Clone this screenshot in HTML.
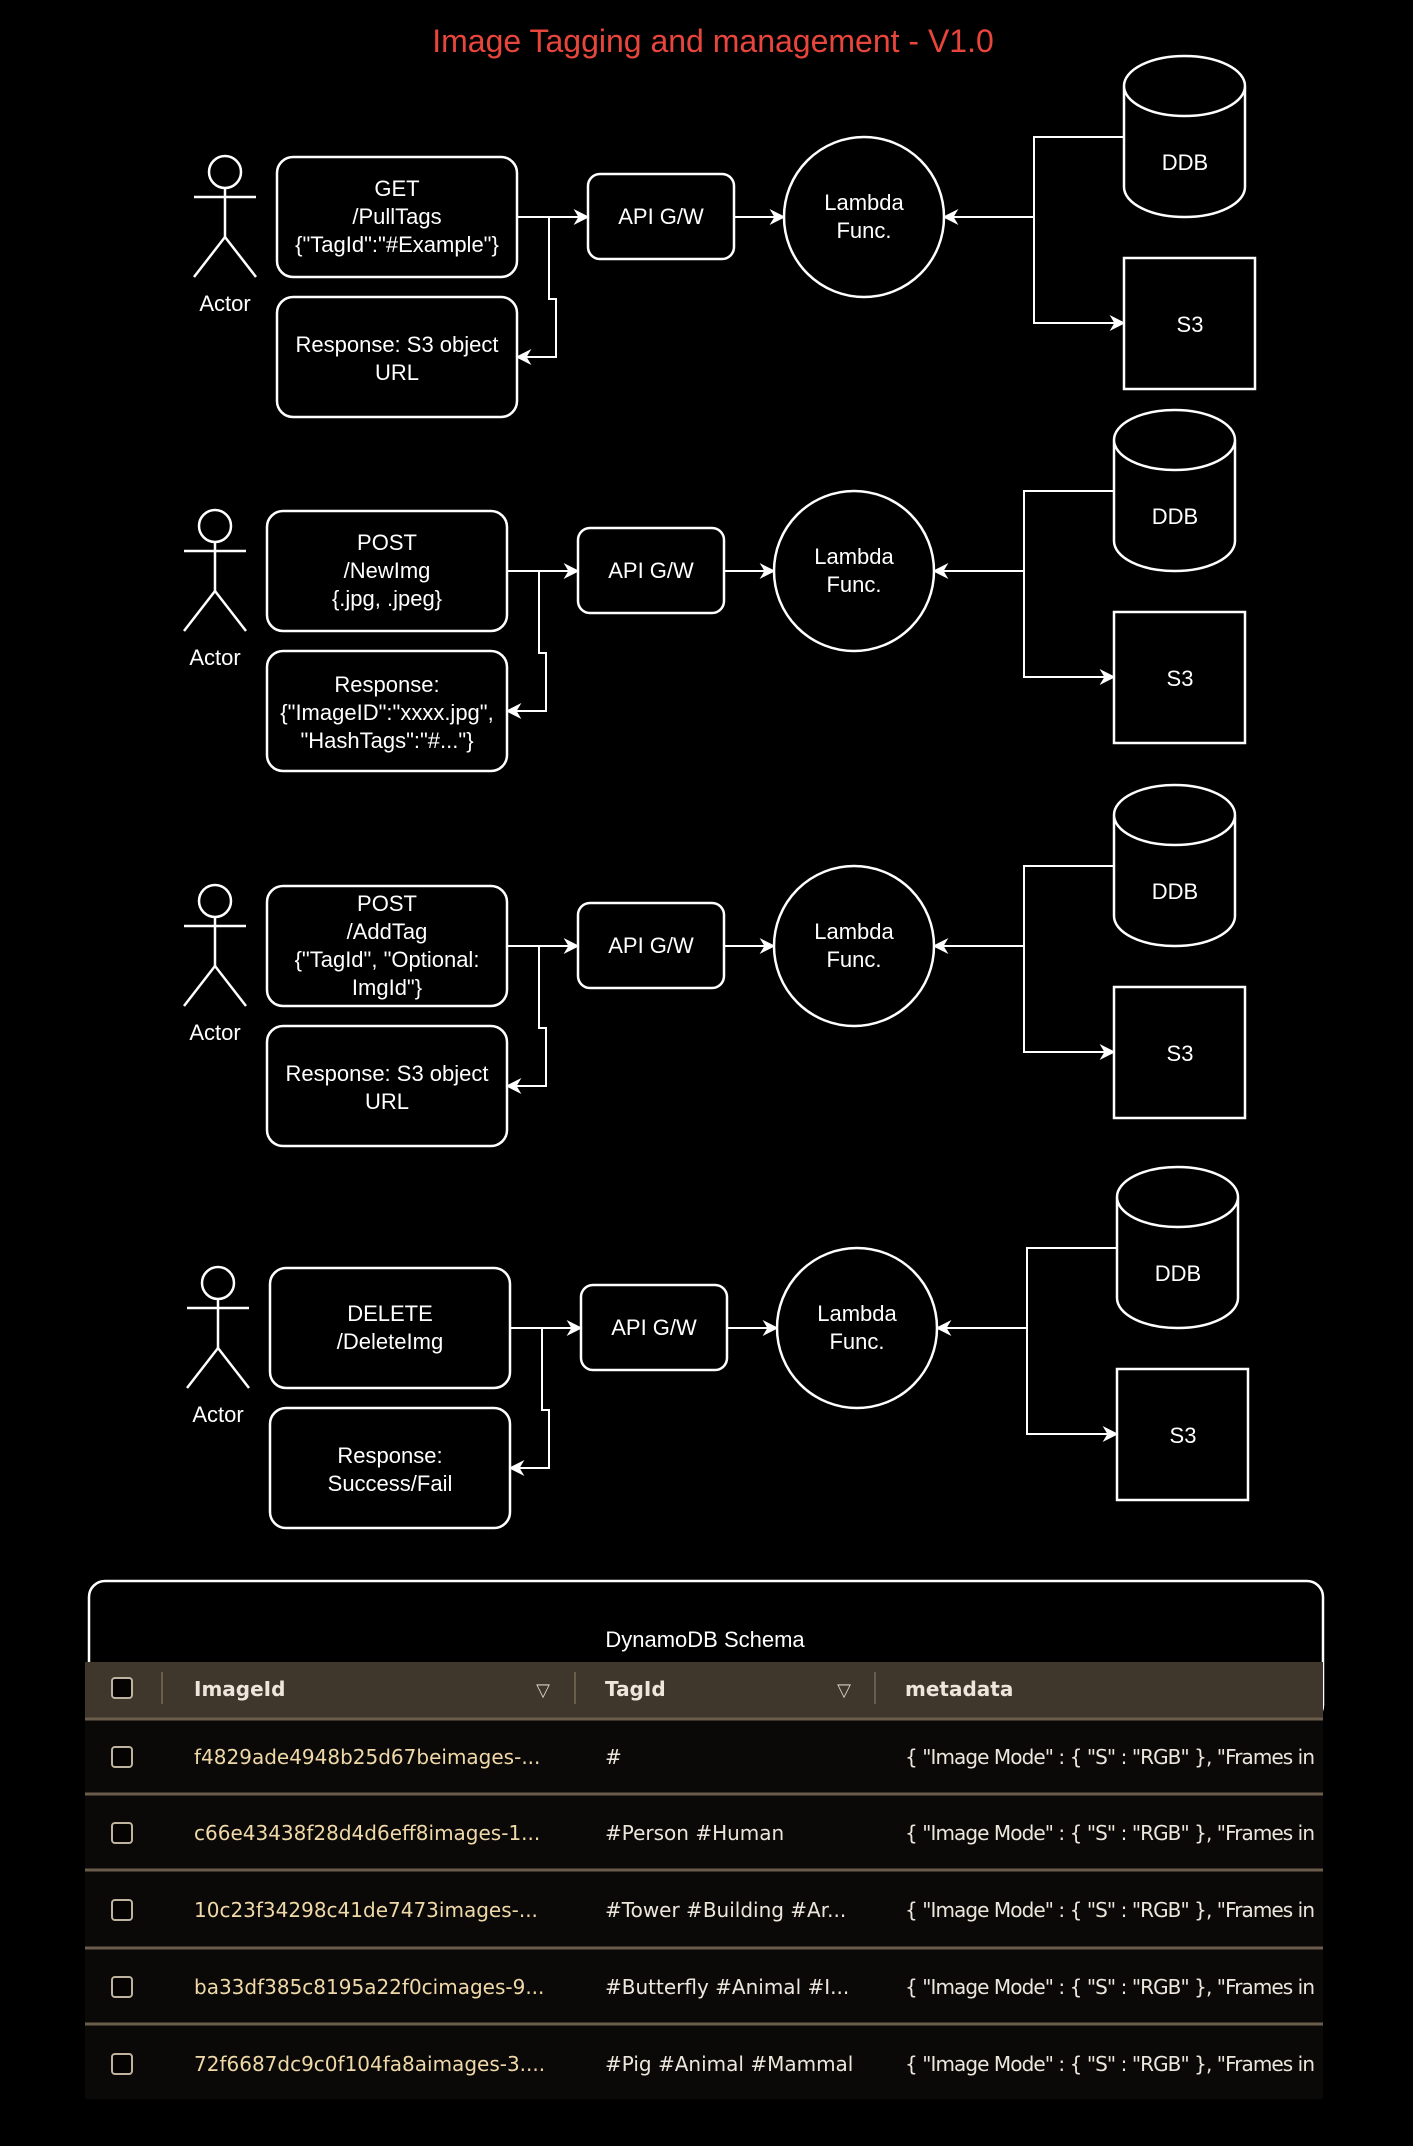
<!DOCTYPE html>
<html><head><meta charset="utf-8"><style>
html,body{margin:0;padding:0;background:#000;}
body{width:1413px;height:2141px;overflow:hidden;position:relative;font-family:"Liberation Sans",Arial,sans-serif;}
svg text{font-family:"Liberation Sans",Arial,sans-serif;fill:#fff;}
.t{font-family:"DejaVu Sans","Liberation Sans",sans-serif;font-size:20px;}
</style></head><body>
<svg width="1413" height="2141" viewBox="0 0 1413 2141" xmlns="http://www.w3.org/2000/svg">
<defs>
<marker id="a" viewBox="0 0 10 10" refX="9" refY="5" markerWidth="16" markerHeight="16" orient="auto" markerUnits="userSpaceOnUse">
<path d="M0,0 L10,5 L0,10 L3,5 Z" fill="#fff"/></marker>
<g id="common" fill="none" stroke="#fff" stroke-width="2.5">
<circle cx="225" cy="172" r="16"/>
<line x1="194" y1="197" x2="256" y2="197"/>
<line x1="225" y1="188" x2="225" y2="237"/>
<polyline points="194,277 225,237 256,277"/>
<rect x="277" y="157" width="240" height="120" rx="16"/>
<rect x="277" y="297" width="240" height="120" rx="16"/>
<line x1="517" y1="217" x2="588" y2="217" marker-end="url(#a)" stroke-width="2"/>
<polyline points="549,217 549,299 556,299 556,357 517,357" marker-end="url(#a)" stroke-width="2"/>
<rect x="588" y="174" width="146" height="85" rx="12"/>
<line x1="734" y1="217" x2="784" y2="217" marker-end="url(#a)" stroke-width="2"/>
<circle cx="864" cy="217" r="80"/>
<path d="M1124,86 L1124,187 A60.5,30 0 0 0 1245,187 L1245,86 A60.5,30 0 0 0 1124,86 A60.5,30 0 0 0 1245,86"/>
<rect x="1124" y="258" width="131" height="131"/>
<polyline points="1124,137 1034,137 1034,323 1124,323" marker-end="url(#a)" stroke-width="2"/>
<line x1="1034" y1="217" x2="944" y2="217" marker-end="url(#a)" stroke-width="2"/>
</g>
<g id="labels" font-size="22" text-anchor="middle">
<text x="225" y="311">Actor</text>
<text x="661" y="224">API G/W</text>
<text x="864" y="210">Lambda</text>
<text x="864" y="238">Func.</text>
<text x="1185" y="170">DDB</text>
<text x="1190" y="332">S3</text>
</g>
</defs>
<text x="713" y="52" font-size="32" text-anchor="middle" style="fill:#e8453c">Image Tagging and management - V1.0</text>

<g>
<use href="#common"/><use href="#labels"/>
<g font-size="22" text-anchor="middle">
<text x="397" y="196">GET</text><text x="397" y="224">/PullTags</text><text x="397" y="252">{"TagId":"#Example"}</text>
<text x="397" y="352">Response: S3 object</text><text x="397" y="380">URL</text>
</g></g>

<g transform="translate(-10,354)">
<use href="#common"/><use href="#labels"/>
<g font-size="22" text-anchor="middle">
<text x="397" y="196">POST</text><text x="397" y="224">/NewImg</text><text x="397" y="252">{.jpg, .jpeg}</text>
<text x="397" y="338">Response:</text><text x="397" y="366">{"ImageID":"xxxx.jpg",</text><text x="397" y="394">"HashTags":"#..."}</text>
</g></g>

<g transform="translate(-10,729)">
<use href="#common"/><use href="#labels"/>
<g font-size="22" text-anchor="middle">
<text x="397" y="182">POST</text><text x="397" y="210">/AddTag</text><text x="397" y="238">{"TagId", "Optional:</text><text x="397" y="266">ImgId"}</text>
<text x="397" y="352">Response: S3 object</text><text x="397" y="380">URL</text>
</g></g>

<g transform="translate(-7,1111)">
<use href="#common"/><use href="#labels"/>
<g font-size="22" text-anchor="middle">
<text x="397" y="210">DELETE</text><text x="397" y="238">/DeleteImg</text>
<text x="397" y="352">Response:</text><text x="397" y="380">Success/Fail</text>
</g></g>

<!-- table -->
<g transform="translate(0,4)">
<rect x="89" y="1577" width="1234" height="140" rx="16" fill="none" stroke="#fff" stroke-width="2.5"/>
<text x="705" y="1643" font-size="22" text-anchor="middle">DynamoDB Schema</text>
<rect x="85" y="1658" width="1238" height="56" fill="#3f362c"/>
<rect x="85" y="1714" width="1238" height="381" fill="#0b0907"/>
<g stroke="#6b5d4c" stroke-width="3">
<line x1="85" y1="1715" x2="1323" y2="1715"/>
<line x1="85" y1="1790" x2="1323" y2="1790"/>
<line x1="85" y1="1866" x2="1323" y2="1866"/>
<line x1="85" y1="1944" x2="1323" y2="1944"/>
<line x1="85" y1="2020" x2="1323" y2="2020"/>
</g>
<g stroke="#6b5d4c" stroke-width="2">
<line x1="162" y1="1668" x2="162" y2="1700"/>
<line x1="575" y1="1668" x2="575" y2="1700"/>
<line x1="875" y1="1668" x2="875" y2="1700"/>
</g>
<g fill="#050403" stroke="#bfb3a0" stroke-width="2">
<rect x="112" y="1674" width="20" height="20" rx="3"/>
<rect x="112" y="1743" width="20" height="20" rx="3"/>
<rect x="112" y="1819" width="20" height="20" rx="3"/>
<rect x="112" y="1896" width="20" height="20" rx="3"/>
<rect x="112" y="1973" width="20" height="20" rx="3"/>
<rect x="112" y="2050" width="20" height="20" rx="3"/>
</g>
<text x="194" y="1692" class="t" font-weight="bold" style="fill:#ece6dc">ImageId</text>
<text x="605" y="1692" class="t" font-weight="bold" style="fill:#ece6dc">TagId</text>
<text x="905" y="1692" class="t" font-weight="bold" style="fill:#ece6dc">metadata</text>
<text x="543" y="1692" font-size="18" text-anchor="middle" style="fill:#d8d0c4">▽</text>
<text x="844" y="1692" font-size="18" text-anchor="middle" style="fill:#d8d0c4">▽</text>
<text x="194" y="1760" class="t" style="fill:#f0d9a8">f4829ade4948b25d67beimages-...</text>
<text x="194" y="1836" class="t" style="fill:#f0d9a8">c66e43438f28d4d6eff8images-1...</text>
<text x="194" y="1913" class="t" style="fill:#f0d9a8">10c23f34298c41de7473images-...</text>
<text x="194" y="1990" class="t" style="fill:#f0d9a8">ba33df385c8195a22f0cimages-9...</text>
<text x="194" y="2067" class="t" style="fill:#f0d9a8">72f6687dc9c0f104fa8aimages-3....</text>
<text x="605" y="1760" class="t" style="fill:#ece6dc">#</text>
<text x="605" y="1836" class="t" style="fill:#ece6dc">#Person #Human</text>
<text x="605" y="1913" class="t" style="fill:#ece6dc">#Tower #Building #Ar...</text>
<text x="605" y="1990" class="t" style="fill:#ece6dc">#Butterfly #Animal #I...</text>
<text x="605" y="2067" class="t" style="fill:#ece6dc">#Pig #Animal #Mammal</text>
<text x="905" y="1760" class="t" style="fill:#ece6dc" textLength="410">{ "Image Mode" : { "S" : "RGB" }, "Frames in</text>
<text x="905" y="1836" class="t" style="fill:#ece6dc" textLength="410">{ "Image Mode" : { "S" : "RGB" }, "Frames in</text>
<text x="905" y="1913" class="t" style="fill:#ece6dc" textLength="410">{ "Image Mode" : { "S" : "RGB" }, "Frames in</text>
<text x="905" y="1990" class="t" style="fill:#ece6dc" textLength="410">{ "Image Mode" : { "S" : "RGB" }, "Frames in</text>
<text x="905" y="2067" class="t" style="fill:#ece6dc" textLength="410">{ "Image Mode" : { "S" : "RGB" }, "Frames in</text>
</g>
</svg>
</body></html>
